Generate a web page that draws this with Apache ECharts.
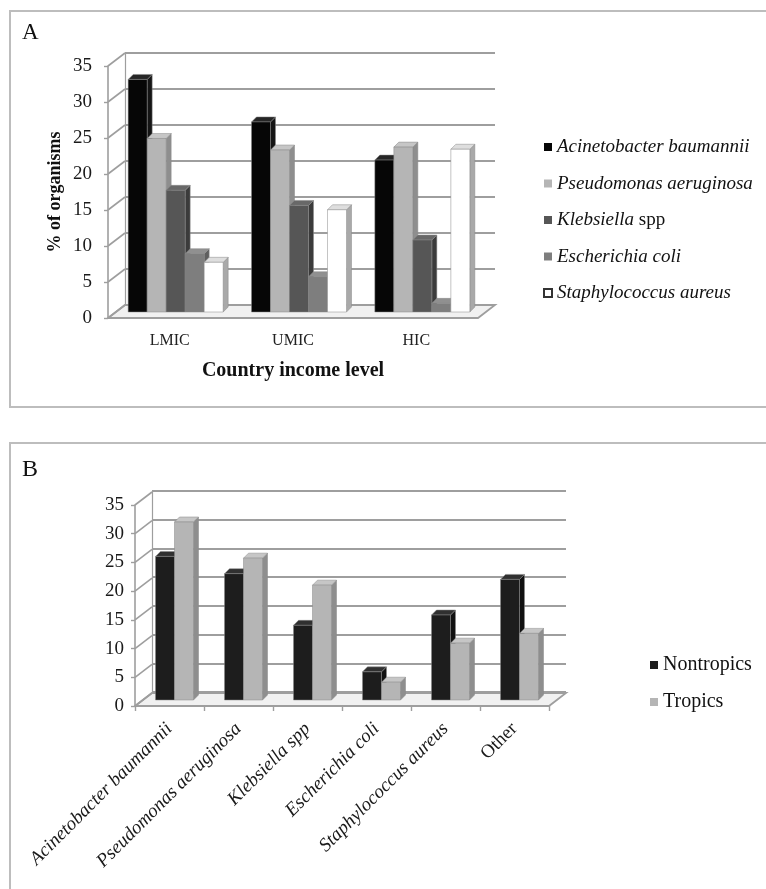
<!DOCTYPE html>
<html>
<head>
<meta charset="utf-8">
<script src="https://cdn.jsdelivr.net/npm/echarts@6/dist/echarts.min.js"></script>
<style>
  html, body { margin: 0; padding: 0; background: #fff; }
  #chart { width: 766px; height: 889px; }
</style>
</head>
<body>
<div id="chart"></div>
<script>
// panel A: organisms by country income level
const incomeLevels = ['LMIC', 'UMIC', 'HIC'];
const acinetobacterA = [32.3, 26.4, 21.1];
const pseudomonasA = [24.1, 22.5, 22.9];
const klebsiellaA = [16.9, 14.8, 10.0];
const ecoliA = [8.1, 4.9, 1.2];
const staphA = [6.9, 14.2, 22.6];

// panel B: tropics vs nontropics
const organismsB = ['Acinetobacter baumannii', 'Pseudomonas aeruginosa', 'Klebsiella spp',
  'Escherichia coli', 'Staphylococcus aureus', 'Other'];
const nontropics = [25, 22, 13, 4.9, 14.8, 21];
const tropics = [31, 24.7, 20, 3.1, 9.9, 11.6];

const yTicks = [0, 5, 10, 15, 20, 25, 30, 35];

const FONT = 'Liberation Serif';
const GRID_LINE = '#9e9e9e';
const WALL_DEPTH = [17, -13];
const BAR_DEPTH = [5, -5];

const seriesA = [
  { name: 'Acinetobacter baumannii', data: acinetobacterA, front: '#060606', top: '#262626', side: '#151515' },
  { name: 'Pseudomonas aeruginosa', data: pseudomonasA, front: '#b5b5b5', top: '#c6c6c6', side: '#8e8e8e' },
  { name: 'Klebsiella spp', data: klebsiellaA, front: '#565656', top: '#686868', side: '#3b3b3b' },
  { name: 'Escherichia coli', data: ecoliA, front: '#7e7e7e', top: '#909090', side: '#5f5f5f' },
  { name: 'Staphylococcus aureus', data: staphA, front: '#ffffff', top: '#dedede', side: '#a9a9a9' },
];
const seriesB = [
  { name: 'Nontropics', data: nontropics, front: '#1d1d1d', top: '#303030', side: '#111111' },
  { name: 'Tropics', data: tropics, front: '#b5b5b5', top: '#c6c6c6', side: '#8e8e8e' },
];

// one 3D column: side face, top face, front face
const barShape = (slot, count, width, colors) => (params, api) => {
  const cat = api.value(0);
  const top = api.coord([cat, api.value(1)]);
  const base = api.coord([cat, 0]);
  const x = top[0] - (count * width) / 2 + slot * width;
  const [dx, dy] = BAR_DEPTH;
  const yT = top[1];
  const yB = base[1];
  const edge = { stroke: '#888', lineWidth: 0.5 };
  return {
    type: 'group',
    children: [
      { type: 'polygon', shape: { points: [[x + width, yT], [x + width + dx, yT + dy], [x + width + dx, yB + dy], [x + width, yB]] },
        style: { fill: colors.side, ...edge } },
      { type: 'polygon', shape: { points: [[x, yT], [x + width, yT], [x + width + dx, yT + dy], [x + dx, yT + dy]] },
        style: { fill: colors.top, ...edge } },
      { type: 'rect', shape: { x, y: yT, width, height: yB - yT },
        style: { fill: colors.front, ...edge } },
    ],
  };
};

const floorShape = (params, api) => {
  const cs = params.coordSys;
  const y = api.coord([0, 0])[1];
  const [dx, dy] = WALL_DEPTH;
  return {
    type: 'polygon',
    shape: { points: [[cs.x, y], [cs.x + cs.width, y], [cs.x + cs.width + dx, y + dy], [cs.x + dx, y + dy]] },
    style: { fill: '#f1f1f1', stroke: GRID_LINE, lineWidth: 1.8 },
  };
};

const wallTick = (params, api) => {
  const cs = params.coordSys;
  const y = api.coord([0, api.value(1)])[1];
  const [dx, dy] = WALL_DEPTH;
  return {
    type: 'line',
    shape: { x1: cs.x, y1: y, x2: cs.x + dx, y2: y + dy },
    style: { stroke: GRID_LINE, lineWidth: 1.6 },
  };
};

const valueAxis = (gridIndex, extra) => ({
  type: 'value', gridIndex, min: 0, max: 35, interval: 5,
  axisLine: { show: false }, axisTick: { show: false }, axisLabel: { show: false },
  splitLine: { show: false },
  ...extra,
});

const catAxis = (gridIndex, data, extra) => ({
  type: 'category', gridIndex, data,
  axisLine: { show: false }, axisTick: { show: false }, axisLabel: { show: false },
  splitLine: { show: false },
  ...extra,
});

const frontY = (gridIndex, margin, extra) => valueAxis(gridIndex, {
  axisLine: { show: true, lineStyle: { color: GRID_LINE, width: 1.6 } },
  axisTick: { show: true, length: 4, lineStyle: { color: GRID_LINE, width: 1.4 } },
  axisLabel: { show: true, fontFamily: FONT, fontSize: 19, color: '#1a1a1a', margin },
  ...extra,
});

const backY = (gridIndex) => valueAxis(gridIndex, {
  axisLine: { show: true, lineStyle: { color: GRID_LINE, width: 1.2 } },
  splitLine: { show: true, lineStyle: { color: GRID_LINE, width: 2 } },
});

const italicNames = (name) => {
  if (name === 'Other') return name;
  return '{i|' + name + '}';
};

const option = {
  animation: false,
  backgroundColor: '#fff',
  grid: [
    { left: 108, top: 66, width: 370, height: 252 },   // A front
    { left: 125, top: 53, width: 370, height: 252 },   // A back wall
    { left: 114, top: 60, width: 370, height: 252 },   // A columns
    { left: 135, top: 505, width: 414, height: 201 },  // B front
    { left: 152, top: 491, width: 414, height: 201 },  // B back wall
    { left: 140, top: 499, width: 414, height: 201 },  // B columns
  ],
  xAxis: [
    catAxis(0, incomeLevels, {
      axisLabel: { show: true, fontFamily: FONT, fontSize: 16, color: '#222', margin: 15 },
      name: 'Country income level', nameLocation: 'middle', nameGap: 43,
      nameTextStyle: { fontFamily: FONT, fontSize: 20, fontWeight: 'bold', color: '#111' },
    }),
    catAxis(1, incomeLevels),
    catAxis(2, incomeLevels),
    catAxis(3, organismsB, {
      axisTick: { show: true, length: 5, lineStyle: { color: GRID_LINE, width: 1.4 } },
      axisLabel: {
        show: true, rotate: 45, margin: 20, interval: 0, color: '#1a1a1a',
        fontFamily: FONT, fontSize: 19,
        formatter: italicNames,
        rich: { i: { fontFamily: FONT, fontSize: 19, fontStyle: 'italic', color: '#1a1a1a' } },
      },
    }),
    catAxis(4, organismsB),
    catAxis(5, organismsB),
  ],
  yAxis: [
    frontY(0, 16, {
      name: '% of organisms', nameLocation: 'middle', nameGap: 44, nameRotate: 90,
      nameTextStyle: { fontFamily: FONT, fontSize: 18, fontWeight: 'bold', color: '#111' },
    }),
    backY(1),
    valueAxis(2),
    frontY(3, 11),
    backY(4),
    valueAxis(5),
  ],
  legend: [
    {
      orient: 'vertical', left: 538, top: 132, itemGap: 16.5,
      itemWidth: 8, itemHeight: 8, icon: 'rect',
      data: seriesA.map((s) => s.name),
      formatter: (name) => (name === 'Klebsiella spp' ? '{i|Klebsiella} {n|spp}' : '{i|' + name + '}'),
      textStyle: {
        fontFamily: FONT, fontSize: 19, color: '#111', lineHeight: 20,
        rich: {
          i: { fontFamily: FONT, fontSize: 19, fontStyle: 'italic', color: '#111', lineHeight: 20 },
          n: { fontFamily: FONT, fontSize: 19, color: '#111', lineHeight: 20 },
        },
      },
    },
    {
      orient: 'vertical', left: 645, top: 650, itemGap: 17,
      itemWidth: 8, itemHeight: 8, icon: 'rect',
      data: seriesB.map((s) => s.name),
      textStyle: { fontFamily: FONT, fontSize: 20, color: '#111', lineHeight: 20 },
    },
  ],
  graphic: [
    { type: 'rect', shape: { x: 10, y: 11, width: 790, height: 396 }, style: { fill: 'none', stroke: '#bdbdbd', lineWidth: 2 } },
    { type: 'rect', shape: { x: 10, y: 443, width: 790, height: 500 }, style: { fill: 'none', stroke: '#bdbdbd', lineWidth: 2 } },
    { type: 'text', left: 22, top: 21, style: { text: 'A', fontFamily: FONT, fontSize: 23, fill: '#111' } },
    { type: 'text', left: 22, top: 458, style: { text: 'B', fontFamily: FONT, fontSize: 24, fill: '#111' } },
  ],
  series: [],
};

// floors and side-wall gridline stubs
[0, 3].forEach((gi) => {
  option.series.push({
    type: 'custom', xAxisIndex: gi, yAxisIndex: gi, z: 1, silent: true,
    renderItem: floorShape, data: [[0, 0]],
  });
  option.series.push({
    type: 'custom', xAxisIndex: gi, yAxisIndex: gi, z: 1, silent: true,
    renderItem: wallTick, data: yTicks.map((v) => [0, v]),
  });
});

seriesA.forEach((s, k) => {
  option.series.push({
    name: s.name, type: 'custom', xAxisIndex: 2, yAxisIndex: 2, z: 10 + k,
    itemStyle: { color: s.front, borderColor: k === 4 ? '#333' : s.front, borderWidth: k === 4 ? 1 : 0 },
    renderItem: barShape(k, seriesA.length, 19, s),
    data: s.data.map((v, i) => [i, v]),
  });
});

seriesB.forEach((s, k) => {
  option.series.push({
    name: s.name, type: 'custom', xAxisIndex: 5, yAxisIndex: 5, z: 10 + k,
    itemStyle: { color: s.front },
    renderItem: barShape(k, seriesB.length, 19, s),
    data: s.data.map((v, i) => [i, v]),
  });
});

const chart = echarts.init(document.getElementById('chart'));
chart.setOption(option);
</script>
</body>
</html>
